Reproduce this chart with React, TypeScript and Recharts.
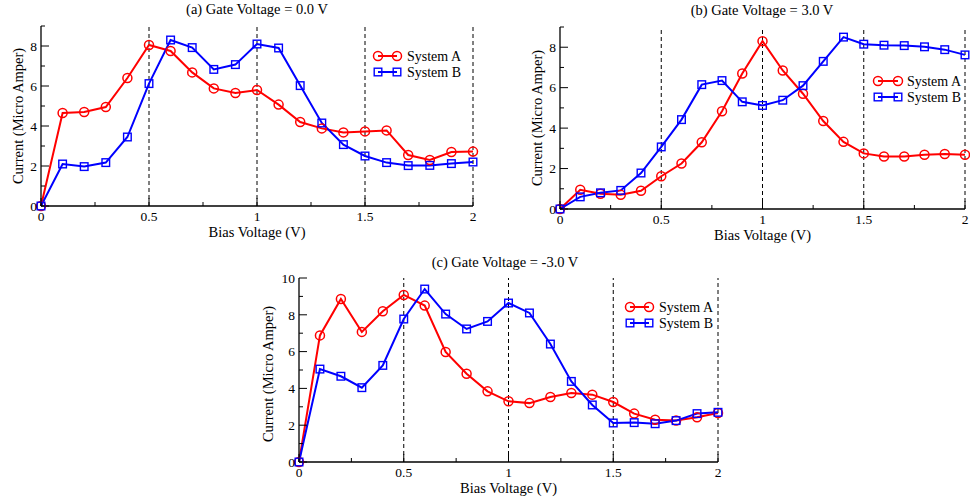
import React from 'react';
import { LineChart, Line, XAxis, YAxis, ReferenceLine, Label } from 'recharts';

// Bias voltage (V)
const biasVoltage = [0, 0.1, 0.2, 0.3, 0.4, 0.5, 0.6, 0.7, 0.8, 0.9, 1.0, 1.1, 1.2, 1.3, 1.4, 1.5, 1.6, 1.7, 1.8, 1.9, 2.0];

// (a) Gate Voltage = 0.0 V
const gate0A = [0, 4.65, 4.7, 4.95, 6.4, 8.05, 7.75, 6.68, 5.88, 5.65, 5.8, 5.07, 4.2, 3.88, 3.68, 3.73, 3.78, 2.55, 2.3, 2.7, 2.72];
const gate0B = [0, 2.1, 1.97, 2.17, 3.45, 6.12, 8.3, 7.92, 6.83, 7.07, 8.1, 7.9, 6.02, 4.15, 3.07, 2.5, 2.17, 2.02, 2.03, 2.12, 2.2];

// (b) Gate Voltage = 3.0 V
const gate3A = [0, 0.95, 0.75, 0.7, 0.9, 1.62, 2.25, 3.3, 4.83, 6.7, 8.3, 6.85, 5.7, 4.35, 3.32, 2.75, 2.6, 2.6, 2.68, 2.72, 2.68];
const gate3B = [0, 0.6, 0.8, 0.92, 1.78, 3.07, 4.42, 6.15, 6.35, 5.3, 5.12, 5.38, 6.1, 7.3, 8.5, 8.15, 8.1, 8.08, 8.02, 7.88, 7.62];

// (c) Gate Voltage = -3.0 V
const gateM3A = [0, 6.88, 8.86, 7.07, 8.19, 9.08, 8.5, 5.98, 4.8, 3.84, 3.3, 3.2, 3.53, 3.75, 3.66, 3.26, 2.63, 2.3, 2.26, 2.43, 2.66];
const gateM3B = [0, 5.05, 4.66, 4.04, 5.25, 7.77, 9.4, 8.04, 7.23, 7.64, 8.64, 8.1, 6.41, 4.38, 3.1, 2.12, 2.14, 2.08, 2.25, 2.63, 2.7];

const xTicks = [0, 0.25, 0.5, 0.75, 1, 1.25, 1.5, 1.75, 2];
const dashedX = [0.5, 1, 1.5, 2];
const yTicks9 = [0, 1, 2, 3, 4, 5, 6, 7, 8, 9];
const yTicks10 = [0, 1, 2, 3, 4, 5, 6, 7, 8, 9, 10];

const titles = ['(a) Gate Voltage = 0.0 V', '(b) Gate Voltage = 3.0 V', '(c) Gate Voltage = -3.0 V'];
const seriesNames = ['System A', 'System B'];
const xLabel = 'Bias Voltage (V)';
const yLabel = 'Current (Micro Amper)';

const FONT = '"Liberation Serif", "Times New Roman", serif';
const RED = '#ff0000';
const BLUE = '#0000ff';

const build = (a: number[], b: number[]) => biasVoltage.map((x, i) => ({ x, a: a[i], b: b[i] }));

const XTick = (props: any) => {
  const { x, y, payload } = props;
  const v = payload.value;
  const axisY = y - 5;
  const major = Math.abs(v * 2 - Math.round(v * 2)) < 1e-6;
  return (
    <g>
      <line x1={x} x2={x} y1={axisY} y2={axisY - (major ? 8 : 4)} stroke="#000" strokeWidth={1} />
      {major && (
        <text x={x} y={y} dy="0.75em" textAnchor="middle" style={{ fontSize: 13.5, fontFamily: FONT }} fill="#000">
          {String(v)}
        </text>
      )}
    </g>
  );
};

const YTick = (props: any) => {
  const { x, y, payload } = props;
  const v = payload.value;
  const axisX = x + 4;
  const major = v % 2 === 0;
  return (
    <g>
      <line x1={axisX} x2={axisX + (major ? 8 : 4)} y1={y} y2={y} stroke="#000" strokeWidth={1} />
      {major && (
        <text x={x} y={y} dy="0.35em" textAnchor="end" style={{ fontSize: 13.5, fontFamily: FONT }} fill="#000">
          {String(v)}
        </text>
      )}
    </g>
  );
};

const SquareDot = (props: any) => {
  const { cx, cy } = props;
  if (cx == null || cy == null) return null;
  return <rect x={cx - 3.8} y={cy - 3.8} width={7.6} height={7.6} fill="none" stroke={BLUE} strokeWidth={1.4} />;
};

type PanelProps = {
  data: { x: number; a: number; b: number }[];
  left: number;
  top: number;
  width: number;
  height: number;
  margin: { top: number; right: number; bottom: number; left: number };
  xHeight: number;
  yMax: number;
  yTicks: number[];
  xLabelOffset: number;
  yLabelDx: number;
  yLabelDy: number;
};

const Panel = (p: PanelProps) => (
  <div style={{ position: 'absolute', left: p.left, top: p.top }}>
    <LineChart width={p.width} height={p.height} data={p.data} margin={p.margin}>
      <XAxis
        dataKey="x"
        type="number"
        domain={[0, 2]}
        ticks={xTicks}
        interval={0}
        height={p.xHeight}
        tickSize={0}
        tickMargin={5}
        tick={XTick}
        axisLine={{ stroke: '#000', strokeWidth: 1.3 }}
      >
        <Label
          value={xLabel}
          position="insideBottom"
          offset={p.xLabelOffset}
          style={{ fontSize: 14.5, fontFamily: FONT, fill: '#000' }}
        />
      </XAxis>
      <XAxis xAxisId="top" orientation="top" type="number" domain={[0, 2]} height={0} tick={false} tickLine={false} axisLine={{ stroke: '#444', strokeWidth: 1 }} />
      <YAxis
        type="number"
        domain={[0, p.yMax]}
        ticks={p.yTicks}
        interval={0}
        width={40}
        tickSize={0}
        tickMargin={4}
        tick={YTick}
        axisLine={{ stroke: '#000', strokeWidth: 1.3 }}
      >
        <Label
          value={yLabel}
          position="center"
          angle={-90}
          dx={p.yLabelDx}
          dy={p.yLabelDy}
          style={{ fontSize: 14.5, fontFamily: FONT, fill: '#000', textAnchor: 'middle' }}
        />
      </YAxis>
      <YAxis yAxisId="right" orientation="right" type="number" domain={[0, p.yMax]} width={0} tick={false} tickLine={false} axisLine={{ stroke: '#444', strokeWidth: 1 }} />
      {dashedX.map((v) => (
        <ReferenceLine key={v} x={v} stroke="#000" strokeWidth={1} strokeDasharray="4 3" />
      ))}
      <Line
        dataKey="a"
        stroke={RED}
        strokeWidth={2}
        dot={{ r: 4.5, fill: 'none', stroke: RED, strokeWidth: 1.5 }}
        isAnimationActive={false}
      />
      <Line dataKey="b" stroke={BLUE} strokeWidth={2} dot={SquareDot} isAnimationActive={false} />
    </LineChart>
  </div>
);

const Title = ({ text, cx, cy }: { text: string; cx: number; cy: number }) => (
  <div
    style={{
      position: 'absolute',
      left: cx - 150,
      top: cy - 9,
      width: 300,
      height: 18,
      lineHeight: '18px',
      textAlign: 'center',
      fontFamily: FONT,
      fontSize: 14.5,
      color: '#000',
      whiteSpace: 'nowrap',
    }}
  >
    {text}
  </div>
);

const LegendBox = ({ x1, x2, tx, yA, yB }: { x1: number; x2: number; tx: number; yA: number; yB: number }) => (
  <svg style={{ position: 'absolute', left: 0, top: 0, overflow: 'visible' }} width={970} height={501}>
    <line x1={x1} x2={x2} y1={yA} y2={yA} stroke={RED} strokeWidth={2} />
    <circle cx={x1} cy={yA} r={4.5} fill="none" stroke={RED} strokeWidth={1.5} />
    <circle cx={x2} cy={yA} r={4.5} fill="none" stroke={RED} strokeWidth={1.5} />
    <text x={tx} y={yA} dy="0.35em" style={{ fontSize: 14, fontFamily: FONT }} fill="#000">
      {seriesNames[0]}
    </text>
    <line x1={x1} x2={x2} y1={yB} y2={yB} stroke={BLUE} strokeWidth={2} />
    <rect x={x1 - 3.8} y={yB - 3.8} width={7.6} height={7.6} fill="none" stroke={BLUE} strokeWidth={1.4} />
    <rect x={x2 - 3.8} y={yB - 3.8} width={7.6} height={7.6} fill="none" stroke={BLUE} strokeWidth={1.4} />
    <text x={tx} y={yB} dy="0.35em" style={{ fontSize: 14, fontFamily: FONT }} fill="#000">
      {seriesNames[1]}
    </text>
  </svg>
);

export default function App() {
  return (
    <div style={{ position: 'absolute', left: 0, top: 0, width: 970, height: 501, background: '#fff', overflow: 'hidden' }}>
      <Panel
        data={build(gate0A, gate0B)}
        left={0}
        top={0}
        width={490}
        height={250}
        margin={{ top: 26, right: 17, bottom: 0, left: 1 }}
        xHeight={44}
        yMax={9}
        yTicks={yTicks9}
        xLabelOffset={13}
        yLabelDx={-3}
        yLabelDy={0}
      />
      <Panel
        data={build(gate3A, gate3B)}
        left={490}
        top={0}
        width={480}
        height={250}
        margin={{ top: 27, right: 5, bottom: 0, left: 30 }}
        xHeight={41}
        yMax={9}
        yTicks={yTicks9}
        xLabelOffset={10}
        yLabelDx={-3}
        yLabelDy={0}
      />
      <Panel
        data={build(gateM3A, gateM3B)}
        left={230}
        top={250}
        width={500}
        height={251}
        margin={{ top: 28, right: 12, bottom: 0, left: 29 }}
        xHeight={39}
        yMax={10}
        yTicks={yTicks10}
        xLabelOffset={8}
        yLabelDx={-11}
        yLabelDy={4}
      />
      <Title text={titles[0]} cx={257} cy={9} />
      <Title text={titles[1]} cx={762} cy={10} />
      <Title text={titles[2]} cx={505} cy={262} />
      <LegendBox x1={378} x2={397} tx={407} yA={56} yB={72} />
      <LegendBox x1={878} x2={898} tx={907} yA={81} yB={97} />
      <LegendBox x1={630} x2={649} tx={659} yA={307} yB={323} />
    </div>
  );
}
